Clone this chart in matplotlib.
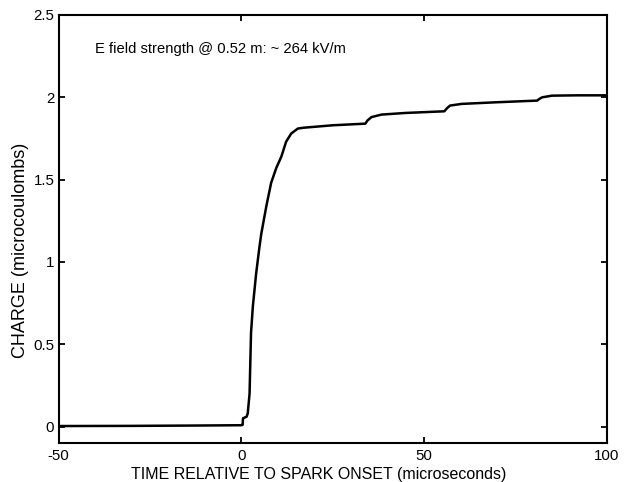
import matplotlib
matplotlib.use("Agg")
import matplotlib.pyplot as plt

plt.rcParams['font.family'] = ['Liberation Sans', 'DejaVu Sans']

time_us = [-50, -30, -13, 0.0, 0.4, 0.5, 1.5, 1.8, 2.3, 2.7, 3.2, 4.1, 5.0, 5.5,
           6.9, 8.2, 9.6, 11.0, 12.3, 13.7, 15.5, 17.0, 25.0, 34.0, 34.6, 35.7,
           38.4, 45.0, 55.6, 56.4, 57.2, 60.4, 70.0, 81.0, 81.6, 82.4, 85.1, 92.0, 100]
charge_uc = [0.003, 0.004, 0.006, 0.008, 0.01, 0.05, 0.06, 0.08, 0.2, 0.57, 0.73, 0.93, 1.09, 1.17,
             1.34, 1.48, 1.57, 1.64, 1.73, 1.78, 1.81, 1.815, 1.83, 1.84, 1.86, 1.88,
             1.895, 1.905, 1.915, 1.935, 1.95, 1.96, 1.97, 1.98, 1.99, 2.0, 2.01, 2.012, 2.012]

x_ticks = [-50, 0, 50, 100]
y_ticks = [0, 0.5, 1, 1.5, 2, 2.5]
y_tick_labels = ['0', '0.5', '1', '1.5', '2', '2.5']
annotation = 'E field strength @ 0.52 m: ~ 264 kV/m'

W, H = 627, 482
fig = plt.figure(figsize=(W / 100, H / 100), dpi=100)
L, R, T, B = 58.5, 606.5, 15, 443
ax = fig.add_axes([L / W, 1 - B / H, (R - L) / W, (B - T) / H])
ax.plot(time_us, charge_uc, color='black', lw=1.8)
ax.set_xlim(-50, 100)
ax.set_ylim(-0.1, 2.5)
ax.set_xticks(x_ticks)
ax.set_xticklabels([str(v) for v in x_ticks])
ax.set_yticks(y_ticks)
ax.set_yticklabels(y_tick_labels)
ax.tick_params(direction='in', top=True, right=True, length=4.5, width=1.3,
               labelsize=10.8)
ax.tick_params(axis='x', pad=4.5)
ax.tick_params(axis='y', pad=3)
for s in ax.spines.values():
    s.set_linewidth(1.5)
ax.set_xlabel('TIME RELATIVE TO SPARK ONSET (microseconds)', fontsize=11.5)
ax.xaxis.set_label_coords((319 - L) / (R - L), 1 - (475 - T) / (B - T))
ax.xaxis.label.set_va('center')
ax.set_ylabel('CHARGE (microcoulombs)', fontsize=13)
ax.yaxis.set_label_coords((21 - L) / (R - L), 1 - (250 - T) / (B - T))
ax.yaxis.label.set_va('center')
ax.text((95 - L) / (R - L), 1 - (49 - T) / (B - T), annotation, fontsize=10.6,
        va='center', ha='left', transform=ax.transAxes)

fig.savefig('out.png', dpi=100)
